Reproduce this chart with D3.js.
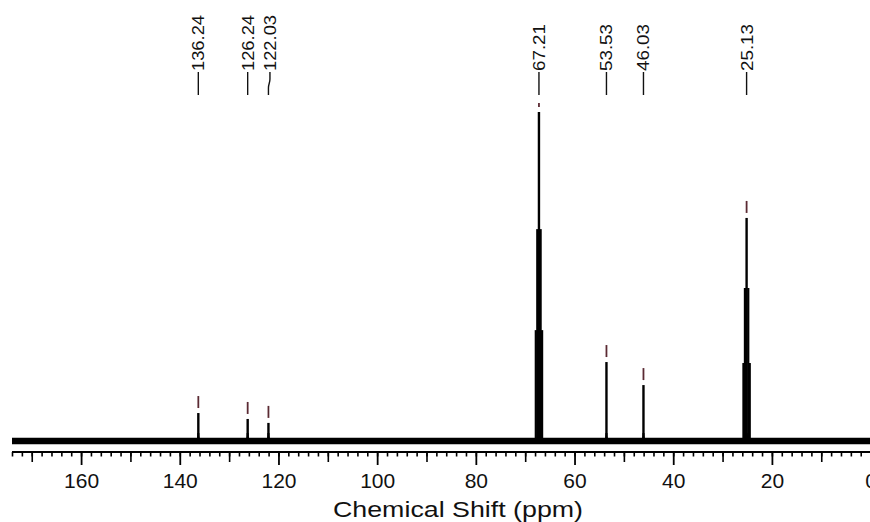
<!DOCTYPE html>
<html>
<head>
<meta charset="utf-8">
<script src="https://cdn.jsdelivr.net/npm/d3@7/dist/d3.min.js"></script>
<style>
  html, body { margin: 0; padding: 0; background: #fff; }
  svg { display: block; }
  text { font-family: "Liberation Sans", Arial, sans-serif; fill: #111; }
</style>
</head>
<body>
<script>
// ---- data ----
const peakShifts    = [136.24, 126.24, 122.03, 67.21, 53.53, 46.03, 25.13];
const peakLabels    = ["136.24", "126.24", "122.03", "67.21", "53.53", "46.03", "25.13"];
const peakIntensity = [8.5, 6.7, 5.5, 100, 24, 17, 67.8];
// unresolved side lines that widen the two big peaks
const shoulderShifts    = [67.55, 66.87, 67.85, 66.57, 25.47, 24.79, 25.77, 24.49];
const shoulderIntensity = [64.4, 64.4, 33.7, 33.7, 46.5, 46.5, 23.7, 23.7];
const majorTicks  = [0, 20, 40, 60, 80, 100, 120, 140, 160];
const majorLabels = ["0", "20", "40", "60", "80", "100", "120", "140", "160"];
const xDomain = [174, 0];
const yDomain = [0, 100];
const xTitle = "Chemical Shift (ppm)";

// ---- layout ----
const W = 870, H = 522;
const svg = d3.select("body").append("svg").attr("width", W).attr("height", H);

const x = d3.scaleLinear().domain(xDomain).range([12, 870.6]);
const y = d3.scaleLinear().domain(yDomain).range([441, 112]);
const axisY = 452;

// baseline (noisy band drawn as thick line)
svg.append("line")
  .attr("x1", x(xDomain[0])).attr("x2", W)
  .attr("y1", y(0)).attr("y2", y(0))
  .attr("stroke", "#000").attr("stroke-width", 6.5);

// shoulders
svg.append("g").selectAll("line").data(shoulderShifts).join("line")
  .attr("x1", d => x(d)).attr("x2", d => x(d))
  .attr("y1", y(0)).attr("y2", (d, i) => y(shoulderIntensity[i]))
  .attr("stroke", "#000").attr("stroke-width", 2.2);

// main peaks
svg.append("g").selectAll("line").data(peakShifts).join("line")
  .attr("x1", d => x(d)).attr("x2", d => x(d))
  .attr("y1", y(0)).attr("y2", (d, i) => y(peakIntensity[i]))
  .attr("stroke", "#000").attr("stroke-width", 2.4);

// base feet
svg.append("g").selectAll("path").data(peakShifts).join("path")
  .attr("d", (d, i) => {
    const cx = x(d), w = peakIntensity[i] > 50 ? 6 : 3;
    return `M${cx - w},${y(0) + 2} Q${cx - 1},${y(0) - 1} ${cx - 1},${y(0) - 8} L${cx + 1},${y(0) - 8} Q${cx + 1},${y(0) - 1} ${cx + w},${y(0) + 2} Z`;
  })
  .attr("fill", "#000");

// peak pick markers
const markerTopClip = 103;
svg.append("g").selectAll("line").data(peakShifts).join("line")
  .attr("x1", d => x(d)).attr("x2", d => x(d))
  .attr("y1", (d, i) => y(peakIntensity[i]) - 5)
  .attr("y2", (d, i) => Math.max(markerTopClip, y(peakIntensity[i]) - 17))
  .attr("stroke", "#5b2a33").attr("stroke-width", 1.8);

// peak labels with leader lines
const labelX = (d, i) => x(d) + (peakLabels[i] === "122.03" ? 1.5 : 0);
const leaders = svg.append("g");
leaders.selectAll("path").data(peakShifts).join("path")
  .attr("d", (d, i) => {
    const x0 = x(d), x1 = labelX(d, i);
    if (x1 !== x0) {
      return `M${x0},95 L${x0},88 C${x0},84 ${x1},83 ${x1},79 L${x1},72`;
    }
    return `M${x0},95 L${x0},72`;
  })
  .attr("fill", "none").attr("stroke", "#111").attr("stroke-width", 1.4);

svg.append("g").selectAll("text").data(peakShifts).join("text")
  .attr("transform", (d, i) => `translate(${labelX(d, i)},71) rotate(-90)`)
  .attr("dy", "0.36em")
  .attr("font-size", 16.5)
  .attr("textLength", (d, i) => peakLabels[i].length === 6 ? 56 : 47)
  .attr("lengthAdjust", "spacingAndGlyphs")
  .text((d, i) => peakLabels[i]);

// axes
const minorTicks = d3.range(0, 176, 2);
const midTicks = d3.range(10, 171, 20);

svg.append("g").attr("transform", `translate(0,${axisY})`)
  .call(d3.axisBottom(x).tickValues(minorTicks).tickSize(4.5).tickFormat(""))
  .call(g => g.select(".domain").remove())
  .call(g => g.selectAll("line").attr("stroke", "#000").attr("stroke-width", 1.6));

svg.append("g").attr("transform", `translate(0,${axisY})`)
  .call(d3.axisBottom(x).tickValues(midTicks).tickSize(10).tickFormat(""))
  .call(g => g.select(".domain").remove())
  .call(g => g.selectAll("line").attr("stroke", "#000").attr("stroke-width", 1.6));

const ax = svg.append("g").attr("transform", `translate(0,${axisY})`)
  .call(d3.axisBottom(x).tickValues(majorTicks).tickSize(13).tickPadding(8)
    .tickFormat((d, i) => majorLabels[i]));
ax.select(".domain").remove();
ax.selectAll("line").attr("stroke", "#000").attr("stroke-width", 1.8);
ax.selectAll("text").attr("font-size", 21).attr("font-family", "'Liberation Sans', Arial, sans-serif").attr("fill", "#111");

svg.append("line")
  .attr("x1", x(xDomain[0])).attr("x2", W)
  .attr("y1", axisY).attr("y2", axisY)
  .attr("stroke", "#000").attr("stroke-width", 2);

svg.append("text")
  .attr("x", 458).attr("y", 517)
  .attr("text-anchor", "middle")
  .attr("font-size", 22)
  .attr("textLength", 250)
  .attr("lengthAdjust", "spacingAndGlyphs")
  .text(xTitle);
</script>
</body>
</html>
